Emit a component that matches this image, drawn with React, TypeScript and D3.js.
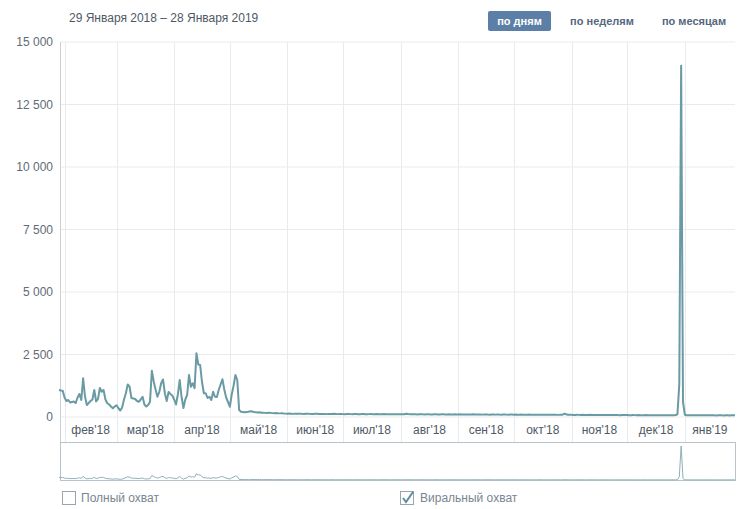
import React from "react";
import * as d3 from "d3";

const startDate = "2018-01-29";
const rangeLabel = "29 Января 2018 – 28 Января 2019";
const periodButtons = ["по дням", "по неделям", "по месяцам"];
const legendItems = ["Полный охват", "Виральный охват"];
const monthNames = ["янв", "фев", "мар", "апр", "май", "июн", "июл", "авг", "сен", "окт", "ноя", "дек"];
const yTicks = [0, 2500, 5000, 7500, 10000, 12500, 15000];

// daily viral reach, Jan 29 2018 .. Jan 28 2019
const reachJanApr = [
  1080, 1060, 1050, 780, 640, 680, 580, 600, 620, 560,
  780, 920, 680, 1550, 820, 480, 560, 640, 700, 1080,
  620, 720, 1160, 1010, 1080, 700, 550, 500, 420, 350,
  420, 470, 350, 260, 380, 700, 950, 1300, 1210, 760,
  740, 720, 640, 610, 700, 810, 500, 420, 480, 610,
  1850, 1420, 1100, 810, 1000, 1350, 1500, 950, 640, 1000,
  920, 860, 700, 500, 900, 1480, 800, 360, 700, 880,
  1680, 1210, 1350, 1150, 2550, 2100, 2080, 1400, 950, 950,
  760, 810, 680, 1010, 810, 800, 1080, 1300, 1510, 1100,
  780, 600, 410, 900, 1250, 1680, 1480, 280, 210, 200,
  190,
];
const reachMay = [200, 210, 230, 220, 200, 190, 180, 190, 170, 175, 165, 160, 170, 165, 155, 150, 160, 150, 145, 150];
const reachJun = [140, 135, 130, 138, 132, 125, 130, 128, 135, 130, 125, 120, 128, 130, 125, 118, 122, 130, 126, 120, 118, 125, 120, 115, 122, 118, 120, 126, 120, 115, 118];
const reachJul = [120, 115, 112, 118, 122, 115, 110, 118, 120, 114, 110, 116, 120, 112, 108, 115, 118, 112, 110, 116, 112, 108, 114, 118, 110, 106, 112, 115, 110, 108, 112];
const reachAug = [110, 114, 108, 112, 128, 116, 110, 106, 112, 110, 104, 108, 112, 106, 104, 110, 108, 104, 100, 108, 112, 104, 100, 106, 110, 104, 102, 108, 104, 100, 106];
const reachSep = [104, 100, 106, 102, 98, 104, 100, 96, 102, 106, 100, 96, 102, 98, 95, 100, 104, 98, 94, 100, 98, 95, 100, 96, 94, 98, 100, 95, 92, 98];
const reachOct = [96, 92, 98, 94, 90, 96, 92, 88, 94, 96, 90, 88, 94, 90, 88, 92, 95, 90, 86, 92, 88, 86, 90, 94, 88, 85, 90, 88, 130, 110, 90];
const reachNov = [86, 88, 84, 82, 88, 85, 80, 86, 84, 80, 82, 86, 80, 78, 84, 82, 78, 80, 84, 78, 76, 82, 80, 76, 78, 82, 76, 74, 80, 78];
const reachDec = [76, 78, 74, 72, 78, 75, 72, 76, 74, 70, 72, 76, 72, 70, 74, 72, 68, 72, 74, 70, 68, 72, 70, 68, 72, 70, 68, 75];
const reachSpike = [110, 1300, 14050, 600, 90];
const reachJan = [72, 70, 68, 74, 70, 66, 70, 72, 68, 66, 70, 68, 66, 70, 72, 66, 64, 68, 70, 66, 64, 68, 66, 64, 68, 70, 66];

const values = [
  ...reachJanApr, ...reachMay, ...reachJun, ...reachJul, ...reachAug, ...reachSep,
  ...reachOct, ...reachNov, ...reachDec, ...reachSpike, ...reachJan,
];

const W = 755;
const H = 509;
const FONT = "'Liberation Sans', Arial, sans-serif";

export default function App() {
  const t0 = d3.timeParse("%Y-%m-%d")(startDate) as Date;
  const data = values.map((v, i) => ({ date: d3.timeDay.offset(t0, i), v }));
  const t1 = data[data.length - 1].date;

  const plotL = 60;
  const plotR = 735;
  const x = d3.scaleTime().domain([t0, t1]).range([59, plotR]);
  const y = d3.scaleLinear().domain([0, 15000]).range([417, 42]);
  const yNav = d3.scaleLinear().domain([0, d3.max(values) as number]).range([480, 446]);

  const line = d3.line<{ date: Date; v: number }>().x((d) => x(d.date)).y((d) => y(d.v));
  const navLine = d3.line<{ date: Date; v: number }>().x((d) => x(d.date)).y((d) => yNav(d.v));

  const months = d3.timeMonth.range(d3.timeMonth.ceil(t0), t1);
  const monthLabels = d3.timeMonth.range(d3.timeMonth.floor(t0), t1).map((m) => {
    const s = m < t0 ? t0 : m;
    const nx = d3.timeMonth.offset(m, 1);
    const e = nx > t1 ? t1 : nx;
    return { m, cx: (x(s) + x(e)) / 2 };
  }).filter((d) => d.m >= d3.timeMonth.ceil(t0) || d3.timeMonth.offset(d.m, 1).getTime() - t0.getTime() > 20 * 864e5);

  const fmt = (v: number) => (v === 0 ? "0" : d3.format(",")(v).replace(/,/g, " "));

  const grid = "#e8ebee";
  const lineColor = "#6a9aa3";

  const buttonCenters = [519.5, 602, 694];

  return (
    <svg width={W} height={H} style={{ position: "absolute", left: 0, top: 0, background: "#fff" }} fontFamily={FONT}>
      {/* header */}
      <text x={69} y={22} fontSize={12} fill="#4e5966">{rangeLabel}</text>
      <rect x={488} y={11} width={63} height={20} rx={2} fill="#5b7fa6" />
      {periodButtons.map((b, i) => (
        <text key={b} x={buttonCenters[i]} y={25} fontSize={11} fontWeight="bold" textAnchor="middle"
          fill={i === 0 ? "#ffffff" : "#55677d"}>{b}</text>
      ))}

      {/* horizontal grid */}
      {yTicks.map((t) => (
        <g key={t}>
          <line x1={plotL} x2={plotR} y1={y(t)} y2={y(t)} stroke={grid} strokeWidth={1} />
          <text x={53} y={y(t) + 4} fontSize={12} textAnchor="end" fill="#5f6b77">{fmt(t)}</text>
        </g>
      ))}
      {/* vertical grid */}
      {months.map((m) => (
        <line key={+m} x1={Math.round(x(m)) + 0.5} x2={Math.round(x(m)) + 0.5} y1={42} y2={442} stroke={grid} strokeWidth={1} />
      ))}
      <line x1={60.5} x2={60.5} y1={42} y2={442} stroke="#c9d0d6" strokeWidth={1} />

      {/* month labels */}
      {monthLabels.map(({ m, cx }) => (
        <text key={+m} x={cx} y={434} fontSize={12} textAnchor="middle" fill="#4e5966">
          {monthNames[m.getMonth()] + "'" + String(m.getFullYear()).slice(2)}
        </text>
      ))}

      {/* series */}
      <path d={line(data) as string} fill="none" stroke={lineColor} strokeWidth={2} strokeLinejoin="round" />

      {/* navigator */}
      <rect x={60.5} y={442.5} width={plotR - 60} height={38} fill="none" stroke="#b9c3cb" strokeWidth={1} />
      <path d={navLine(data) as string} fill="none" stroke="#8fb0b8" strokeWidth={1} />

      {/* legend */}
      <rect x={62.5} y={491.5} width={13} height={13} fill="#fff" stroke="#98a4b0" strokeWidth={1} />
      <text x={81} y={502} fontSize={12} fill="#7a858f">{legendItems[0]}</text>
      <rect x={400.5} y={491.5} width={13} height={13} fill="#fff" stroke="#98a4b0" strokeWidth={1} />
      <path d="M403,498 L406,502 L413,492" fill="none" stroke="#5b8fa0" strokeWidth={2} />
      <text x={420} y={502} fontSize={12} fill="#7a858f">{legendItems[1]}</text>
    </svg>
  );
}
